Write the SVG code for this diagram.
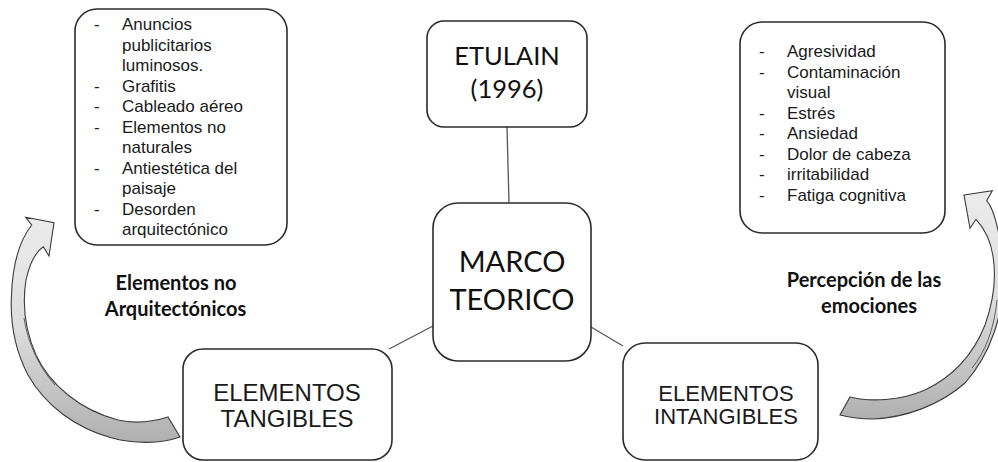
<svg xmlns="http://www.w3.org/2000/svg" width="998" height="462" viewBox="0 0 998 462">
<defs>
<style>
.box{fill:#fff;stroke:#2b2b2b;stroke-width:1.6}
.conn{stroke:#555;stroke-width:1.3;fill:none}
.list{font-family:"Liberation Sans",Arial,sans-serif;font-size:17px;fill:#1a1a1a}
.big{font-family:"Liberation Sans",Arial,sans-serif;fill:#1a1a1a;text-anchor:middle}
.cal{font-family:Lato,"Noto Sans",sans-serif;fill:#111;text-anchor:middle}
.lbl{font-family:Lato,"Noto Sans",sans-serif;font-weight:bold;font-size:20px;fill:#111;text-anchor:middle}
.arrow{stroke:#3c3c3c;stroke-width:1.1;stroke-linejoin:miter}
.twist{fill:none;stroke:#555;stroke-width:0.9}
</style>
<linearGradient id="gl" x1="0" y1="0" x2="0" y2="1">
<stop offset="0" stop-color="#ececec"/>
<stop offset="0.5" stop-color="#dcdcdc"/>
<stop offset="1" stop-color="#b0b0b0"/>
</linearGradient>
</defs>
<rect width="998" height="462" fill="#fff"/>
<g id="connectors">
<line class="conn" x1="507" y1="127" x2="509" y2="203"/>
<line class="conn" x1="433" y1="326" x2="389" y2="349"/>
<line class="conn" x1="591" y1="327" x2="623" y2="346"/>
</g>
<g id="arrow-left">
<path class="arrow" fill="url(#gl)" d="M25.7,217.3 L54,222.7 L49,256 L43.3,246.7 C37,251 30,262 26,280 C22,305 25,330 36,355 C50,385 80,410 118,420 C135,424 152,422 168,417 L180,437 C160,444 135,444 112,438 C75,428 45,405 28,375 C15,350 10,322 11.5,295 C12.5,265 20,240 31.7,225 Z"/>
<path class="twist" d="M24,318 C28,345 40,368 55,385"/>
</g>
<g id="arrow-right">
<path class="arrow" fill="url(#gl)" d="M964,195 L992.3,190.7 L986.7,200.7 C995,210 1002,240 1003,275 C1004,315 990,355 965,383 C940,405 905,418 872,419 C860,419 848,417 840,415 L850,397 C870,402 900,401 925,390 C950,378 972,358 985,325 C994,300 996,275 993,256 C991,243 986,230 976,219.3 L970,228.3 Z"/>
<path class="twist" d="M997,300 C994,330 985,352 972,368"/>
</g>
<g id="node-list-left">
<rect class="box" x="75" y="9" width="212" height="236" rx="22"/>
<text class="list">
<tspan x="94" y="30">-</tspan><tspan x="122" y="30">Anuncios</tspan>
<tspan x="122" y="50.5">publicitarios</tspan>
<tspan x="122" y="71">luminosos.</tspan>
<tspan x="94" y="91.5">-</tspan><tspan x="122" y="91.5">Grafitis</tspan>
<tspan x="94" y="112">-</tspan><tspan x="122" y="112">Cableado aéreo</tspan>
<tspan x="94" y="132.5">-</tspan><tspan x="122" y="132.5">Elementos no</tspan>
<tspan x="122" y="153">naturales</tspan>
<tspan x="94" y="173.5">-</tspan><tspan x="122" y="173.5">Antiestética del</tspan>
<tspan x="122" y="194">paisaje</tspan>
<tspan x="94" y="214.5">-</tspan><tspan x="122" y="214.5">Desorden</tspan>
<tspan x="122" y="235">arquitectónico</tspan>
</text>
</g>
<g id="node-list-right">
<rect class="box" x="740" y="22" width="205" height="211" rx="22"/>
<text class="list">
<tspan x="759" y="57">-</tspan><tspan x="787" y="57">Agresividad</tspan>
<tspan x="759" y="77.5">-</tspan><tspan x="787" y="77.5">Contaminación</tspan>
<tspan x="787" y="98">visual</tspan>
<tspan x="759" y="118.5">-</tspan><tspan x="787" y="118.5">Estrés</tspan>
<tspan x="759" y="139">-</tspan><tspan x="787" y="139">Ansiedad</tspan>
<tspan x="759" y="159.5">-</tspan><tspan x="787" y="159.5">Dolor de cabeza</tspan>
<tspan x="759" y="180">-</tspan><tspan x="787" y="180">irritabilidad</tspan>
<tspan x="759" y="200.5">-</tspan><tspan x="787" y="200.5">Fatiga cognitiva</tspan>
</text>
</g>
<g id="node-etulain">
<rect class="box" x="427" y="21" width="160" height="106" rx="17"/>
<text class="cal" font-size="25.5"><tspan x="507" y="65">ETULAIN</tspan><tspan x="507" y="98">(1996)</tspan></text>
</g>
<g id="node-marco">
<rect class="box" x="433" y="203" width="158" height="158" rx="25"/>
<text class="cal" font-size="29"><tspan x="512" y="272">MARCO</tspan><tspan x="512" y="310">TEORICO</tspan></text>
</g>
<g id="node-tangibles">
<rect class="box" x="183" y="349" width="209" height="111" rx="20"/>
<text class="big" font-size="24"><tspan x="287" y="401">ELEMENTOS</tspan><tspan x="287" y="426.5">TANGIBLES</tspan></text>
</g>
<g id="node-intangibles">
<rect class="box" x="623" y="343" width="195" height="117" rx="22"/>
<text class="big" font-size="22"><tspan x="726" y="401">ELEMENTOS</tspan><tspan x="726" y="424">INTANGIBLES</tspan></text>
</g>
<g id="label-left">
<text class="lbl"><tspan x="176" y="290">Elementos no</tspan><tspan x="175.5" y="316">Arquitectónicos</tspan></text>
</g>
<g id="label-right">
<text class="lbl"><tspan x="864" y="287">Percepción de las</tspan><tspan x="869" y="313">emociones</tspan></text>
</g>
</svg>
